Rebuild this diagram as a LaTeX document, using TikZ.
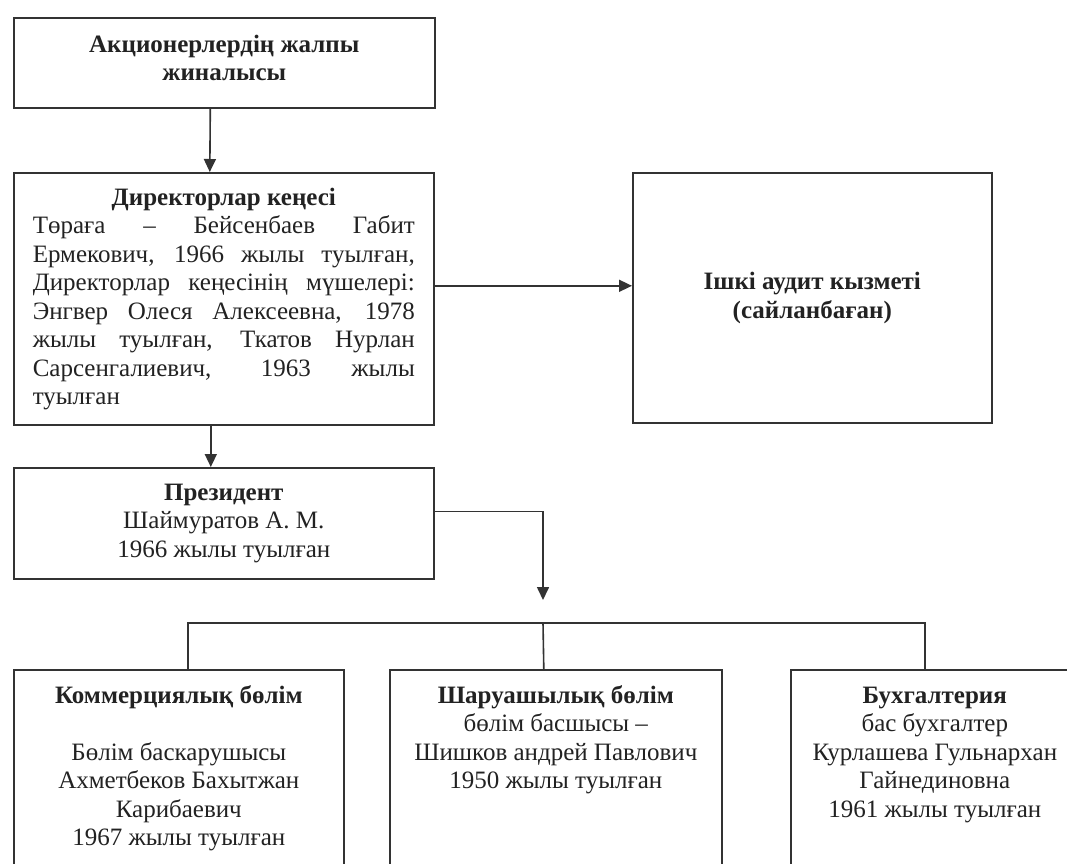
\documentclass[tikz,border=0pt]{standalone}
\usepackage{fontspec}
\setmainfont{Liberation Serif}
\usetikzlibrary{arrows.meta,calc}
\definecolor{ln}{HTML}{333333}
\definecolor{tx}{HTML}{222222}
\newcommand{\fsz}{\fontsize{25}{28.5}\selectfont}
\begin{document}
\begin{tikzpicture}[x=1pt,y=-1pt,
  box/.style={draw=ln, line width=1.6pt, rectangle, inner sep=0pt, anchor=north west,
              text=tx, font=\fsz, align=center},
  txt/.style={text=tx, font=\fsz, align=center, inner sep=0pt, anchor=north},
  arr/.style={draw=ln, line width=1.6pt, -{Triangle[length=13pt,width=12pt]}},
  conn/.style={draw=ln, line width=1.6pt}]
\fill[white] (0,0) rectangle (1067,863);
\useasboundingbox (0,0) rectangle (1067,863);
\clip (0,0) rectangle (1067,863);

\node[box, minimum width=421, minimum height=90] (ak) at (13,17) {};
\node[txt, anchor=center, font=\fsz\bfseries] (akt) at ([yshift=5pt]ak.center)
  {Акционерлердің жалпы\\жиналысы};

\node[box, minimum width=420, minimum height=252] (dk) at (13,172)
  {\textbf{Директорлар кеңесі}\\
   \makebox[382pt][s]{Төраға – Бейсенбаев Габит}\\
   \makebox[382pt][s]{Ермекович, 1966 жылы туылған,}\\
   \makebox[382pt][s]{Директорлар кеңесінің мүшелері:}\\
   \makebox[382pt][s]{Энгвер Олеся Алексеевна, 1978}\\
   \makebox[382pt][s]{жылы туылған, Ткатов Нурлан}\\
   \makebox[382pt][s]{Сарсенгалиевич, 1963 жылы}\\
   \makebox[382pt][l]{туылған}};

\node[box, minimum width=359, minimum height=250] (ia) at (632,172)
  {\textbf{Ішкі аудит кызметі}\\\textbf{(сайланбаған)}};

\node[box, minimum width=420, minimum height=111] (pr) at (13,467)
  {\textbf{Президент}\\Шаймуратов А. М.\\1966 жылы туылған};

\node[box, minimum width=330, minimum height=260] (kom) at (13,669) {};
\node[box, minimum width=332, minimum height=260] (sh) at (389,669) {};
\node[box, minimum width=288, minimum height=260] (bu) at (790,669) {};

\node[txt] (komt) at ([yshift=-14pt]kom.north)
  {\strut\textbf{Коммерциялық бөлім}\\[28.5pt]Бөлім баскарушысы\\Ахметбеков Бахытжан\\Карибаевич\\1967 жылы туылған};
\node[txt] (sht) at ([yshift=-14pt]sh.north)
  {\strut\textbf{Шаруашылық бөлім}\\бөлім басшысы –\\Шишков андрей Павлович\\1950 жылы туылған};
\node[txt] (but) at ([yshift=-14pt]bu.north)
  {\strut\textbf{Бухгалтерия}\\бас бухгалтер\\Курлашева Гульнархан\\Гайнединовна\\1961 жылы туылған};

\draw[arr] ([xshift=-14pt]ak.south) -- ([xshift=-14pt]dk.north);
\draw[arr] ([xshift=-13pt]dk.south) -- ([xshift=-13pt]pr.north);
\draw[arr] ([yshift=13pt]dk.east) -- ([yshift=13pt]dk.east -| ia.west);
\coordinate (pa) at (543,600);
\coordinate (bus) at (543,623);
\draw[arr] ([yshift=12pt]pr.east) -| (pa);
\draw[conn] ([xshift=9pt]kom.north) |- (bus) -| ([xshift=-10pt]bu.north);
\draw[conn] (bus) -- ([xshift=-12pt]sh.north);
\end{tikzpicture}
\end{document}
